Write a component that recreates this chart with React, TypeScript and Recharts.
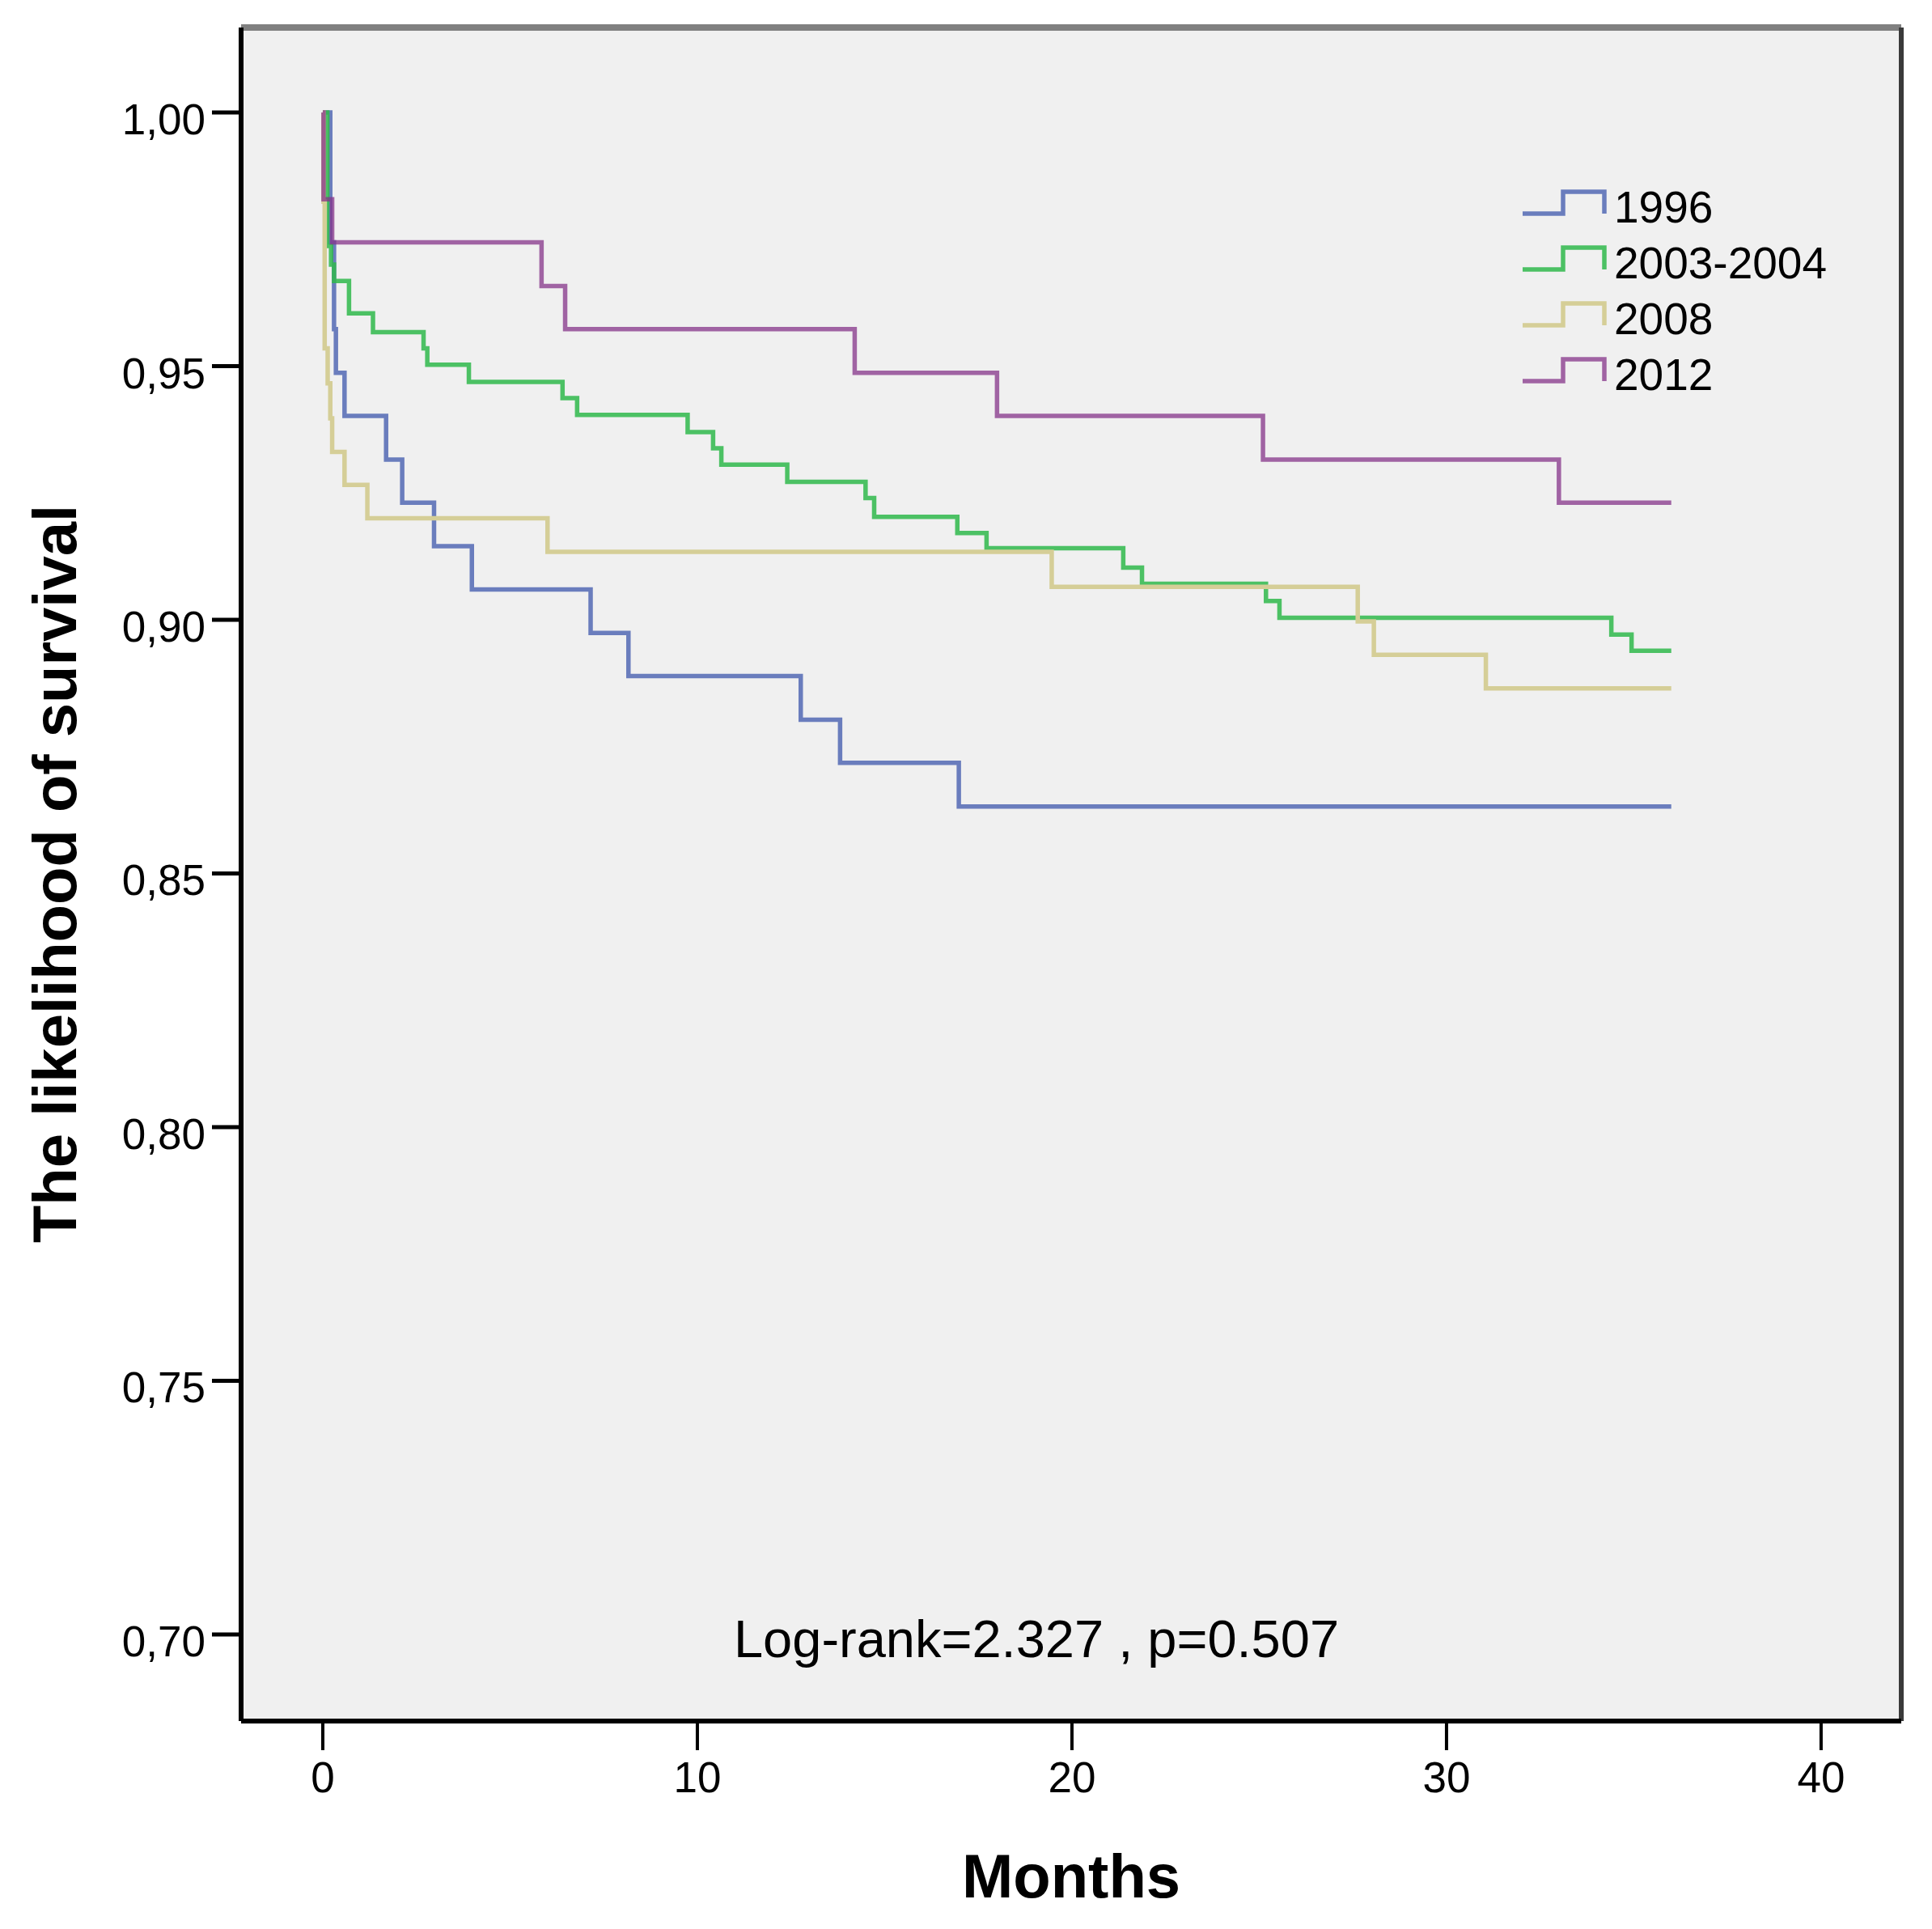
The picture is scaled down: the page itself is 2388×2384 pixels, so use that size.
import React from 'react';
import { LineChart, Line, XAxis, YAxis, CartesianGrid, Legend, ReferenceLine } from 'recharts';

// Kaplan-Meier estimates (months, cumulative survival)
const seriesNames = ['1996', '2003-2004', '2008', '2012'];
const seriesColors = ['#4860b0', '#2fb84b', '#d5ce97', '#85348a'];
const seriesOpacity = [0.8, 0.85, 1, 0.75];

const months1996 = [0, 0.2, 0.3, 0.35, 0.58, 1.69, 2.12, 2.97, 3.98, 7.15, 8.16, 12.76, 13.81, 16.98, 36];
const surv1996 = [1, 0.9744, 0.9573, 0.9487, 0.9402, 0.9316, 0.9231, 0.9145, 0.906, 0.8974, 0.8889, 0.8803, 0.8718, 0.8632, 0.8632];

const months2003 = [0, 0.12, 0.22, 0.3, 0.7, 1.34, 2.69, 2.79, 3.9, 6.4, 6.79, 9.74, 10.42, 10.64, 12.4, 14.49, 14.72, 16.94, 17.72, 21.37, 21.87, 25.18, 25.54, 34.4, 34.94, 36];
const surv2003 = [1, 0.9737, 0.97, 0.9668, 0.9604, 0.9567, 0.9535, 0.9503, 0.9469, 0.9437, 0.9404, 0.937, 0.9338, 0.9306, 0.9272, 0.924, 0.9203, 0.9171, 0.9141, 0.9103, 0.9071, 0.9037, 0.9004, 0.8971, 0.8939, 0.8939];

const months2008 = [0, 0.02, 0.05, 0.13, 0.2, 0.25, 0.58, 1.19, 6.0, 19.46, 27.63, 28.06, 31.05, 36];
const surv2008 = [1, 0.9824, 0.9535, 0.9466, 0.9397, 0.9331, 0.9266, 0.92, 0.9134, 0.9065, 0.8997, 0.8931, 0.8865, 0.8865];

const months2012 = [0, 0.02, 0.25, 5.84, 6.47, 14.2, 18.0, 25.1, 33.0, 36];
const surv2012 = [1, 0.9829, 0.9744, 0.9658, 0.9573, 0.9487, 0.9402, 0.9316, 0.9231, 0.9231];

const xTicks = [0, 10, 20, 30, 40];
const yTicks = [0.7, 0.75, 0.8, 0.85, 0.9, 0.95, 1.0];

const xDomain: [number, number] = [-2.181, 42.14];
const yDomain: [number, number] = [0.68293, 1.01675];

const FONT = 'Arial, "Liberation Sans", sans-serif';

const toPoints = (months: number[], surv: number[]) =>
  months.map((t, i) => ({ t, s: surv[i] }));

const series = [
  toPoints(months1996, surv1996),
  toPoints(months2003, surv2003),
  toPoints(months2008, surv2008),
  toPoints(months2012, surv2012),
];

const YTick = ({ x, y, payload }: any) => (
  <text x={x} y={y + 27} textAnchor="end" fontSize={53} fontFamily={FONT} fill="#000">
    {Number(payload.value).toFixed(2).replace('.', ',')}
  </text>
);

const XTick = ({ x, y, payload }: any) => (
  <text x={x} y={y + 38} textAnchor="middle" fontSize={53} fontFamily={FONT} fill="#000">
    {payload.value}
  </text>
);

const StepLegend = () => (
  <svg width={420} height={280}>
    {seriesNames.map((name, i) => {
      const cy = 30 + i * 69;
      return (
        <g key={name}>
          <path
            d={`M4 ${cy + 9} H54 V${cy - 18} H105 V${cy + 9}`}
            fill="none"
            stroke={seriesColors[i]}
            strokeOpacity={seriesOpacity[i]}
            strokeWidth={5.5}
          />
          <text x={117} y={cy + 20} fontSize={55} fontFamily={FONT} fill="#000">
            {name}
          </text>
        </g>
      );
    })}
  </svg>
);

export default function App() {
  return (
    <div style={{ position: 'absolute', left: 0, top: 0, width: 2388, height: 2384, background: '#fff' }}>
      <LineChart width={2388} height={2384} margin={{ top: 34, right: 38, bottom: 197, left: 238 }}>
        <CartesianGrid horizontal={false} vertical={false} fill="#f0f0f0" />
        <XAxis
          dataKey="t"
          type="number"
          domain={xDomain}
          ticks={xTicks}
          interval={0}
          height={60}
          allowDataOverflow
          tickSize={36}
          tickMargin={14}
          tick={<XTick />}
          tickLine={{ stroke: '#000', strokeWidth: 4 }}
          axisLine={{ stroke: '#000', strokeWidth: 6 }}
          label={() => (
            <text x={1324} y={2345} textAnchor="middle" fontSize={76} fontWeight="bold" fontFamily={FONT} fill="#000">
              Months
            </text>
          )}
        />
        <YAxis
          type="number"
          domain={yDomain}
          ticks={yTicks}
          interval={0}
          width={60}
          allowDataOverflow
          tickSize={36}
          tickMargin={8}
          tick={<YTick />}
          tickLine={{ stroke: '#000', strokeWidth: 5 }}
          axisLine={{ stroke: '#000', strokeWidth: 6 }}
          label={() => (
            <text
              x={94}
              y={1080}
              transform="rotate(-90, 94, 1080)"
              textAnchor="middle"
              fontSize={76}
              fontWeight="bold"
              fontFamily={FONT}
              fill="#000"
            >
              The likelihood of survival
            </text>
          )}
        />
        {/* frame: grey top edge, dark right edge */}
        <ReferenceLine y={yDomain[1]} stroke="#808080" strokeWidth={8} ifOverflow="visible" />
        <ReferenceLine x={xDomain[1]} stroke="#3a3a3a" strokeWidth={6} ifOverflow="visible" />
        <Legend
          layout="horizontal"
          verticalAlign="middle"
          align="center"
          content={<StepLegend />}
          wrapperStyle={{ left: 1878, top: 225, width: 420, height: 280 }}
        />
        {series.map((data, i) => (
          <Line
            key={seriesNames[i]}
            data={data}
            dataKey="s"
            name={seriesNames[i]}
            type="stepAfter"
            stroke={seriesColors[i]}
            strokeOpacity={seriesOpacity[i]}
            strokeWidth={5.5}
            dot={false}
            activeDot={false}
            isAnimationActive={false}
          />
        ))}
      </LineChart>
      <svg
        width={2388}
        height={2384}
        style={{ position: 'absolute', left: 0, top: 0, pointerEvents: 'none' }}
      >
        <text x={1281} y={2048} textAnchor="middle" fontSize={65} fontFamily={FONT} fill="#000">
          Log-rank=2.327 , p=0.507
        </text>
      </svg>
    </div>
  );
}
